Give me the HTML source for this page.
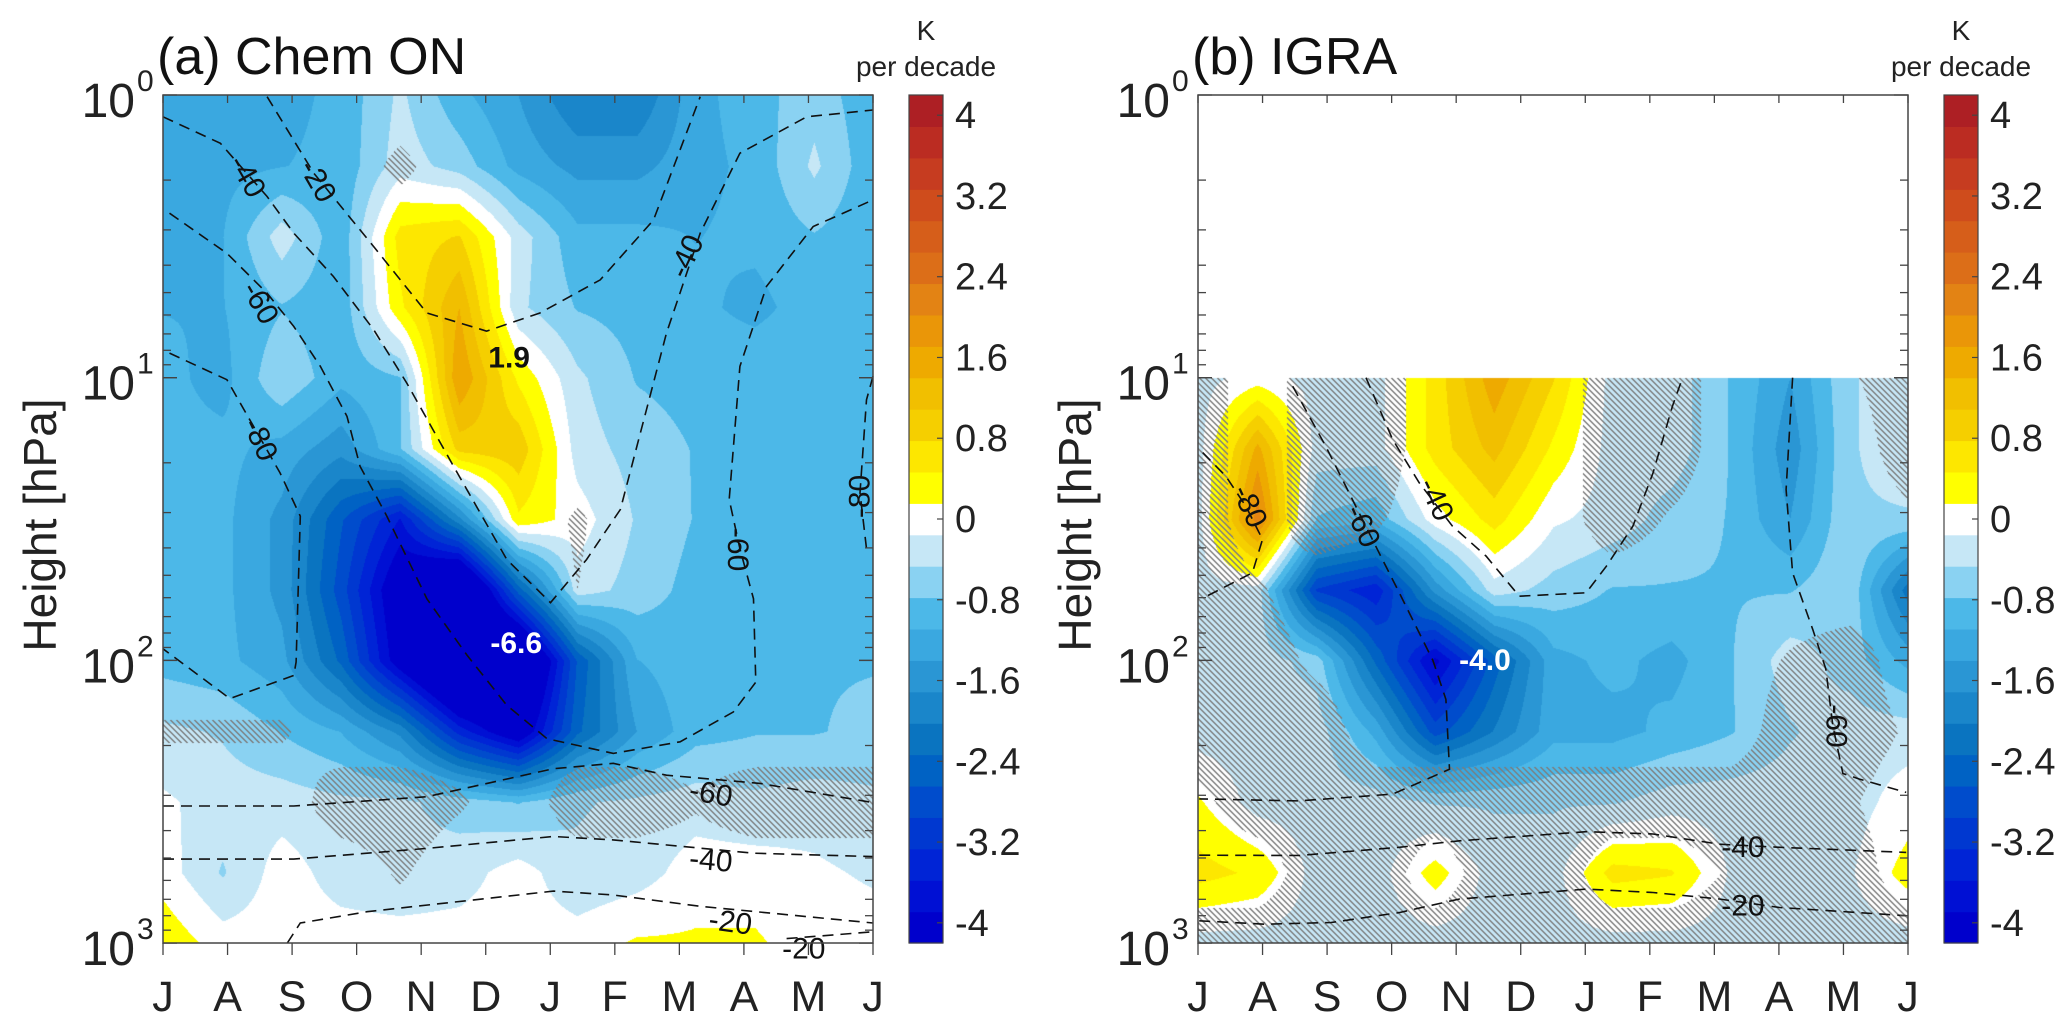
<!DOCTYPE html>
<html><head><meta charset="utf-8">
<style>
html,body{margin:0;padding:0;background:#fff;}
#wrap{position:relative;width:2067px;height:1033px;overflow:hidden;font-family:"Liberation Sans",Arial,sans-serif;}
canvas{position:absolute;}
svg{position:absolute;left:0;top:0;}
</style></head>
<body>
<div id="wrap">
<canvas id="cvA" width="710" height="848" style="left:163px;top:95px"></canvas>
<canvas id="cvB" width="710" height="848" style="left:1198px;top:95px"></canvas>
<svg id="ov" width="2067" height="1033"></svg>
</div>
<script>
// ---- data ----
const monthLabels=['J','A','S','O','N','D','J','F','M','A','M','J'];
const cbTicks=[4,3.2,2.4,1.6,0.8,0,-0.8,-1.6,-2.4,-3.2,-4];
const cbMin=-4.2, cbMax=4.2;
const cbColors=['#0000cc','#0010d4','#0024d6','#0038d0','#004ccc','#0062c4','#0a74c0','#1a86ca','#2a96d4','#3aa8e0','#4cb8e8','#8ad2f2','#c6e7f6','#ffffff',
'#ffff00','#fde700','#f5cf00','#f1bf00','#eeaa00','#ea9608','#e38314','#dc6e18','#d65e1a','#cf4c1c','#c63c20','#bb2c22','#ad1f24'];
// grid rows: log10(p) = 0,0.25,...,3 ; 13 columns evenly across Jul..Jun
const gridA=[
[-1.2,-1.2,-1.2,-1.0,-0.4,-1.0,-1.4,-2.0,-2.0,-1.2,-0.9,-0.6,-1.0],
[-1.3,-1.2,-1.1,-1.0,-0.3,-0.6,-1.2,-1.5,-1.5,-1.2,-1.0,-0.4,-1.0],
[-1.1,-1.1,-0.3,-1.0,0.6,0.8,-0.3,-1.0,-1.0,-1.1,-1.0,-0.8,-1.0],
[-1.1,-1.1,-0.8,-1.0,0.4,1.4,-0.4,-0.8,-0.9,-1.0,-1.2,-0.9,-1.0],
[-1.0,-1.2,-0.5,-1.0,-0.8,1.7,0.4,-0.4,-0.8,-0.9,-0.8,-0.8,-1.0],
[-1.0,-1.0,-1.2,-1.6,-0.8,0.9,1.0,-0.3,-0.6,-0.8,-0.9,-0.9,-1.0],
[-1.0,-1.0,-1.5,-2.6,-3.6,-1.8,0.4,0.0,-0.5,-0.8,-1.0,-1.0,-1.0],
[-1.0,-1.0,-1.5,-2.8,-4.4,-5.5,-2.5,-0.3,-0.6,-0.9,-0.8,-0.8,-0.8],
[-0.9,-1.0,-1.3,-2.4,-4.2,-5.8,-5.5,-2.6,-1.1,-0.9,-0.9,-0.8,-0.8],
[-0.4,-0.5,-0.8,-1.1,-1.8,-3.4,-4.4,-2.4,-1.4,-0.9,-0.8,-0.8,-0.7],
[-0.1,-0.3,-0.3,-0.4,-0.4,-0.6,-0.8,-0.5,-0.4,-0.3,-0.4,-0.3,-0.4],
[0.0,-0.5,0.0,-0.3,-0.4,-0.3,0.0,-0.4,-0.3,0.0,0.0,-0.1,-0.2],
[0.4,0.0,0.0,0.0,0.0,0.0,0.0,0.0,0.2,0.2,0.2,0.0,0.0]];
const hatchA=[
[0,0,0,0,0,0,0,0,0,0,0,0,0],
[0,0,0,0,0.7,0,0,0,0,0,0,0,0],
[0,0,0,0,0,0,0,0,0,0,0,0,0],
[0,0,0,0,0,0,0,0,0,0,0,0,0],
[0,0,0,0,0,0,0,0,0,0,0,0,0],
[0,0,0,0,0,0,0,0,0,0,0,0,0],
[0,0,0,0,0,0,0,0.6,0,0,0,0,0],
[0,0,0,0,0,0,0,0.5,0,0,0,0,0],
[0,0,0,0,0,0,0,0,0,0,0,0,0],
[0.6,0.6,0.6,0,0,0,0,0,0,0,0,0,0],
[0,0,0,1,1,0.6,0,1,1,0.6,1,1,1],
[0,0,0,0,0.6,0,0,0,0,0,0,0,0],
[0,0,0,0,0,0,0,0,0,0,0,0,0]];
// panel b rows: log10(p) = 1.0 ... 3.0
const gridB=[
[-0.3,0.0,-0.3,-0.3,0.6,1.6,0.8,-0.3,-0.3,-0.8,-1.4,-0.5,-0.3],
[-0.3,1.5,-0.3,-0.3,0.6,1.2,0.4,-0.3,-0.3,-0.8,-1.6,-0.5,-0.3],
[-0.3,2.2,-0.8,-1.0,0.0,0.6,-0.1,-0.3,-0.6,-0.8,-1.4,-0.5,-0.5],
[-0.3,-0.3,-3.0,-3.5,-1.6,-0.3,-0.6,-0.8,-0.8,-0.8,-0.8,-0.5,-2.2],
[-0.3,-0.3,-0.6,-2.4,-4.0,-2.5,-1.2,-1.0,-1.2,-0.8,-0.3,-0.6,-1.2],
[-0.3,-0.3,-0.3,-1.2,-2.8,-2.0,-1.2,-1.2,-1.0,-0.8,-0.5,-0.3,-0.3],
[0.2,-0.3,-0.3,-0.3,-0.5,-0.5,-0.5,-0.5,-0.3,-0.3,-0.3,-0.3,0.0],
[0.6,0.4,-0.3,-0.3,0.3,-0.3,-0.3,0.6,0.5,-0.2,-0.3,-0.2,0.3],
[-0.3,-0.3,-0.3,-0.3,-0.3,-0.3,-0.3,-0.3,-0.3,-0.3,-0.4,-0.3,-0.3]];
const hatchB=[
[1,0,1,1,0,0,0,1,1,0,0,0.4,1],
[1,0,1,1,0,0,0,1,1,0,0,0,1],
[1,0,1,0.6,0,0,0,1,0.4,0,0,0,0.3],
[1,0.6,0,0,0,0,0,0,0,0,0,0,0],
[1,1,0.3,0,0,0,0,0,0,0,0.6,1,0],
[1,1,1,0,0,0,0,0,0,0,1,1,0.4],
[0.3,1,1,1,1,1,1,1,1,1,1,0.6,0],
[0,0,1,1,0,1,1,0,0,0.6,1,1,0],
[1,1,1,1,1,1,1,1,1,1,1,1,1]];
// dashed climatology contours: [column, log10 p]
const linesA=[
[[1.76,0.006],[2.55,0.277],[3.56,0.536],[4.46,0.771],[5.47,0.835],[6.37,0.771],[7.39,0.654],[8.29,0.442],[9.08,0.006]],
[[0,0.077],[0.97,0.171],[1.76,0.359],[2.21,0.489],[2.88,0.642],[3.56,0.83],[4.12,1.019],[4.91,1.313],[5.81,1.643],[6.55,1.796],[7.16,1.643],[7.73,1.466],[8.51,0.842],[9.08,0.489],[9.75,0.206],[10.88,0.077],[12,0.053]],
[[0.11,0.418],[1.08,0.56],[1.76,0.701],[2.21,0.819],[2.66,0.96],[3.11,1.137],[3.33,1.313],[3.78,1.488],[4.46,1.782],[5.14,1.982],[5.81,2.159],[6.49,2.277],[7.61,2.329],[8.74,2.288],[9.64,2.182],[10.02,2.077],[9.98,1.782],[9.75,1.605],[9.57,1.431],[9.75,0.96],[10.2,0.677],[10.99,0.465],[12,0.371]],
[[0.11,0.913],[1.08,1.007],[1.53,1.172],[1.98,1.337],[2.32,1.49],[2.25,2.006],[2.21,2.053],[1.13,2.135],[0,1.959]],
[[12,0.995],[11.89,1.078],[11.78,1.407],[11.89,1.605]],
[[0,2.515],[2.21,2.515],[4.46,2.482],[6.6,2.383],[7.61,2.364],[8.51,2.406],[10.09,2.435],[12,2.503]],
[[0,2.703],[2.21,2.703],[4.46,2.665],[6.6,2.623],[7.61,2.635],[9.98,2.682],[12,2.694]],
[[2.1,3.0],[2.32,2.929],[3.45,2.889],[6.6,2.816],[7.61,2.83],[9.08,2.87],[12,2.929]],
[[10.54,2.984],[12,2.96]]];
const linesB=[
[[0.08,1.265],[0.47,1.348],[0.81,1.455],[1.09,1.572],[0.92,1.69],[0.08,1.78]],
[[1.6,1.03],[2.16,1.243],[2.61,1.431],[3.06,1.619],[3.4,1.76],[3.97,2.0],[4.19,2.138],[4.25,2.385],[3.74,2.432],[3.29,2.473],[1.71,2.497],[0.02,2.49]],
[[2.84,1.0],[3.29,1.219],[3.74,1.372],[4.3,1.525],[4.87,1.631],[5.43,1.773],[6.56,1.761],[6.9,1.667],[7.35,1.525],[7.69,1.337],[8.02,1.1],[8.19,1.0]],
[[10.05,1.0],[9.94,1.396],[10.05,1.69],[10.39,1.89],[10.61,2.03],[10.73,2.232],[10.9,2.4],[11.18,2.42],[11.97,2.467]],
[[0.02,2.689],[1.71,2.69],[3.4,2.661],[4.42,2.638],[6.56,2.606],[7.69,2.614],[8.81,2.65],[9.83,2.661],[11.97,2.679]],
[[0.02,2.921],[1.13,2.933],[2.25,2.927],[3.4,2.892],[4.42,2.844],[6.56,2.809],[7.69,2.821],[8.81,2.844],[9.83,2.874],[11.97,2.903]]];
const lineLabelsA=[['-40',1.42,0.288,60],['-20',2.61,0.305,60],['-60',1.64,0.736,60],['-80',1.64,1.219,65],['-40',8.85,0.571,-65],['-60',9.71,1.608,90],['-80',11.78,1.42,-90],['-60',9.26,2.472,10],['-40',9.26,2.708,5],['-20',9.59,2.927,8],['-20',10.83,3.02,0]];
const lineLabelsB=[['-80',0.87,1.455,65],['-60',2.78,1.525,65],['-40',4.02,1.431,65],['-60',10.78,2.232,90],['-40',9.21,2.661,0],['-20',9.21,2.868,0]];
const extremaA=[['1.9',5.85,0.93,'#111'],['-6.6',5.97,1.94,'#fff']];
const extremaB=[['-4.0',4.85,2.0,'#fff']];

// ---- axes ----
const plotW=710, plotH=848, decadePx=282.7, colPx=plotW/12;
const panels=[{x0:163,title:'(a) Chem ON',grid:gridA,hatch:hatchA,lp0:0,lines:linesA,labels:lineLabelsA,ext:extremaA,cv:'cvA',id:'a'},
              {x0:1198,title:'(b) IGRA',grid:gridB,hatch:hatchB,lp0:1,lines:linesB,labels:lineLabelsB,ext:extremaB,cv:'cvB',id:'b'}];
const yS=lp=>95+lp*decadePx;
function colorIndex(v){const n=cbColors.length;let i=Math.floor((v-cbMin)/((cbMax-cbMin)/n));return Math.max(0,Math.min(n-1,i));}
function hex(c){return [parseInt(c.slice(1,3),16),parseInt(c.slice(3,5),16),parseInt(c.slice(5,7),16)];}
const rgb=cbColors.map(hex);
function bil(g,r,c){const R=g.length-1,C=g[0].length-1;r=Math.max(0,Math.min(R,r));c=Math.max(0,Math.min(C,c));
 const r0=Math.min(R-1,Math.floor(r)),c0=Math.min(C-1,Math.floor(c));const fr=r-r0,fc=c-c0;
 return g[r0][c0]*(1-fr)*(1-fc)+g[r0][c0+1]*(1-fr)*fc+g[r0+1][c0]*fr*(1-fc)+g[r0+1][c0+1]*fr*fc;}
function drawField(p){
 const ctx=document.getElementById(p.cv).getContext('2d');const img=ctx.createImageData(plotW,plotH);const d=img.data;
 for(let py=0;py<plotH;py++){const lp=py/decadePx;
  for(let px=0;px<plotW;px++){const k=(py*plotW+px)*4;let col=[255,255,255];
   if(lp>=p.lp0-0.001){const r=(lp-p.lp0)/0.25,c=px/colPx;const v=bil(p.grid,r,c);col=rgb[colorIndex(v)];
    const h=bil(p.hatch,r,c);if(h>0.5&&(((px-py)%6+6)%6)<1.5)col=[125,125,125];}
   d[k]=col[0];d[k+1]=col[1];d[k+2]=col[2];d[k+3]=255;}}
 ctx.putImageData(img,0,0);}
const NS='http://www.w3.org/2000/svg';const ov=document.getElementById('ov');
function mk(tag,attrs,parent){const e=document.createElementNS(NS,tag);for(const k in attrs)e.setAttribute(k,attrs[k]);(parent||ov).appendChild(e);return e;}
panels.forEach(p=>{
 drawField(p);
 const xS=c=>p.x0+c*colPx;
 const g=mk('g',{});
 
 
 p.lines.forEach(L=>{const pl=mk('polyline',{points:L.map(q=>xS(q[0]).toFixed(1)+','+yS(q[1]).toFixed(1)).join(' '),fill:'none',stroke:'#111','stroke-width':1.6,'stroke-dasharray':'11 7'},g);
  
  });
 p.labels.forEach(Lb=>{const x=xS(Lb[1]),y=yS(Lb[2]);
  const t=mk('text',{x:x,y:y,'font-size':30,'text-anchor':'middle','dominant-baseline':'central',fill:'#111',transform:`rotate(${Lb[3]} ${x} ${y})`,'font-family':'Liberation Sans, Arial, sans-serif'},g);
  t.textContent=Lb[0];
  
  });
 p.ext.forEach(E=>{const t=mk('text',{x:xS(E[1]),y:yS(E[2]),'font-size':30,'font-weight':'bold','text-anchor':'middle','dominant-baseline':'central',fill:E[3],'font-family':'Liberation Sans, Arial, sans-serif'},g);
  t.textContent=E[0];
  
  });
 const fr=mk('rect',{x:p.x0,y:95,width:plotW,height:plotH,fill:'none',stroke:'#444','stroke-width':1.5},g);
 
 
 for(let dec=0;dec<3;dec++){for(let m=1;m<=10;m++){const lp=dec+Math.log10(m);if(lp>3)continue;const y=yS(lp);const len=(m===1||m===10)?14:8;
  mk('line',{x1:p.x0,x2:p.x0+len,y1:y,y2:y,stroke:'#444','stroke-width':1.3},g);
  mk('line',{x1:p.x0+plotW,x2:p.x0+plotW-len,y1:y,y2:y,stroke:'#444','stroke-width':1.3},g);}}
 for(let e=0;e<=3;e++){const y=yS(e);
  const t=mk('text',{x:p.x0-28,y:y+22,'font-size':48,'text-anchor':'end',fill:'#222','font-family':'Liberation Sans, Arial, sans-serif'},g);
  t.textContent='10';
  
  
  const s=mk('text',{x:p.x0-26,y:y-4,'font-size':30,'text-anchor':'start',fill:'#222','font-family':'Liberation Sans, Arial, sans-serif'},g);
  s.textContent=String(e);
  
  }
 monthLabels.forEach((mL,i)=>{const x=p.x0+i*plotW/(monthLabels.length-1);
  mk('line',{x1:x,x2:x,y1:943,y2:955,stroke:'#444','stroke-width':1.3},g);
  mk('line',{x1:x,x2:x,y1:95,y2:103,stroke:'#444','stroke-width':1.3},g);
  const t=mk('text',{x:x,y:1011,'font-size':43,'text-anchor':'middle',fill:'#222','font-family':'Liberation Sans, Arial, sans-serif'},g);
  t.textContent=mL;
  
  });
 const yt=mk('text',{x:p.x0-123,y:541,'font-size':46,'text-anchor':'middle',fill:'#222',transform:`rotate(-90 ${p.x0-123} 525)`,'font-family':'Liberation Sans, Arial, sans-serif'},g);
 yt.textContent='Height [hPa]';
 
 
 const tt=mk('text',{x:p.x0-6,y:74,'font-size':52,fill:'#111','font-family':'Liberation Sans, Arial, sans-serif'},g);
 tt.textContent=p.title;
 
 
 const cbx=p.x0+746, cbw=34;const cb=mk('g',{},g);
 
 
 const bandH=plotH/cbColors.length;
 cbColors.forEach((c,i)=>{mk('rect',{x:cbx,y:943-(i+1)*bandH,width:cbw,height:bandH+0.6,fill:c},cb);});
 mk('rect',{x:cbx,y:95,width:cbw,height:plotH,fill:'none',stroke:'#444','stroke-width':1.2},cb);
 const cbY=v=>943-(v-cbMin)/(cbMax-cbMin)*plotH;
 cbTicks.forEach(v=>{const y=cbY(v);mk('line',{x1:cbx+cbw-6,x2:cbx+cbw,y1:y,y2:y,stroke:'#444','stroke-width':1.2},cb);
  const t=mk('text',{x:cbx+cbw+12,y:y+13,'font-size':38,fill:'#222','font-family':'Liberation Sans, Arial, sans-serif'},cb);
  t.textContent=String(v);
  
  });
 const k=mk('text',{x:cbx+17,y:40,'font-size':28,'text-anchor':'middle',fill:'#222','font-family':'Liberation Sans, Arial, sans-serif'},cb);
 k.textContent='K';
 
 
 const pd=mk('text',{x:cbx+17,y:76,'font-size':28,'text-anchor':'middle',fill:'#222','font-family':'Liberation Sans, Arial, sans-serif'},cb);
 pd.textContent='per decade';
 
 
});
</script>
</body></html>
